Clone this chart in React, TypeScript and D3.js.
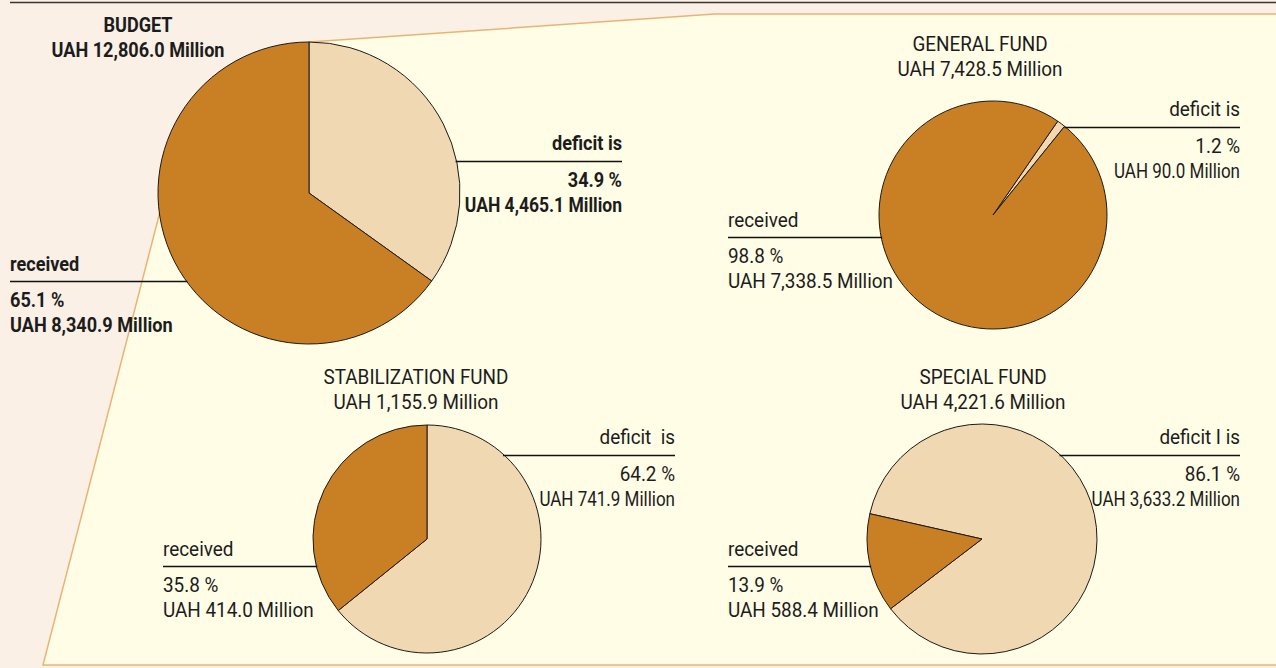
import * as d3 from 'd3';
import { useEffect, useRef } from 'react';

// fund names and totals
const fundNames = ['BUDGET', 'GENERAL FUND', 'STABILIZATION FUND', 'SPECIAL FUND'];
const fundTotals = ['UAH 12,806.0 Million', 'UAH 7,428.5 Million', 'UAH 1,155.9 Million', 'UAH 4,221.6 Million'];

// shares, percent
const deficitPct = [34.9, 1.2, 64.2, 86.1];
const receivedPct = [65.1, 98.8, 35.8, 13.9];

// amounts
const deficitAmt = ['UAH 4,465.1 Million', 'UAH 90.0 Million', 'UAH 741.9 Million', 'UAH 3,633.2 Million'];
const receivedAmt = ['UAH 8,340.9 Million', 'UAH 7,338.5 Million', 'UAH 414.0 Million', 'UAH 588.4 Million'];

const deficitLabels = ['deficit is', 'deficit is', 'deficit  is', 'deficit I is'];
const receivedLabel = 'received';

// layout per pie (not data)
const layout = [
  { cx: 309, cy: 193, r: 151, start: 0, bold: true, titleX: 138, titleY: 32, defY: 161, defX: 622, recY: 281, recX: 10 },
  { cx: 993, cy: 215, r: 114, start: 34.6, bold: false, titleX: 980, titleY: 51, defY: 127, defX: 1240, recY: 237, recX: 728 },
  { cx: 427, cy: 539, r: 114, start: 0, bold: false, titleX: 416, titleY: 384, defY: 455, defX: 675, recY: 566, recX: 163 },
  { cx: 982, cy: 539, r: 115, start: 282.7, bold: false, titleX: 983, titleY: 384, defY: 455, defX: 1240, recY: 566, recX: 728 },
];

const DARK = '#c97f24';
const LIGHT = '#f0d8b2';
const FONT = "Roboto, 'DejaVu Sans Condensed', sans-serif";

export default function App() {
  const svgRef = useRef<SVGSVGElement>(null);

  useEffect(() => {
    drawChart(svgRef.current!);
  }, []);

  return (
    <svg ref={svgRef} width={1276} height={668} style={{ position: 'absolute', left: 0, top: 0 }} />
  );
}

function drawChart(el: SVGSVGElement) {
  const svg = d3.select(el);
  svg.selectAll('*').remove();

  svg.append('rect').attr('width', 1276).attr('height', 668).attr('fill', '#faf0e6');

  // yellow zoom panel behind the fund pies
  const panel: [number, number][] = [[309, 42], [715, 14], [1280, 14], [1280, 665], [43, 665], [163, 200]];
  svg.append('path')
    .attr('d', d3.line()(panel) + 'Z')
    .attr('fill', '#fffde6')
    .attr('stroke', '#e8b474')
    .attr('stroke-width', 1.5);

  svg.append('line')
    .attr('x1', 10).attr('x2', 1276).attr('y1', 2.5).attr('y2', 2.5)
    .attr('stroke', '#3a3530').attr('stroke-width', 1.5);

  layout.forEach((L, i) => {
    const g = svg.append('g');
    const weight = L.bold ? 'bold' : 'normal';
    const sx = L.bold ? 0.905 : 0.945;
    const sxTight = L.bold ? 0.875 : 0.85; // right-hand amounts are set tighter
    const a0 = (L.start * Math.PI) / 180;
    const pie = d3.pie<number>().sort(null).value(d => d)
      .startAngle(a0).endAngle(a0 + 2 * Math.PI);
    const arc = d3.arc<d3.PieArcDatum<number>>().innerRadius(0).outerRadius(L.r);
    const slices = pie([deficitPct[i], receivedPct[i]]);

    g.append('g').attr('transform', `translate(${L.cx},${L.cy})`)
      .selectAll('path')
      .data(slices)
      .join('path')
      .attr('d', arc)
      .attr('fill', (_, j) => (j === 0 ? LIGHT : DARK))
      .attr('stroke', '#1e1a16')
      .attr('stroke-width', 1)
      .attr('stroke-linejoin', 'round');

    // condensed look: squeeze horizontally around the anchor point
    const text = (x: number, y: number, s: string, anchor: string, k = sx) =>
      g.append('text')
        .attr('transform', `translate(${x},${y}) scale(${k},1)`)
        .attr('text-anchor', anchor)
        .attr('font-family', FONT)
        .attr('font-size', 20)
        .attr('font-weight', weight)
        .attr('fill', '#1c1c1c')
        .style('white-space', 'pre')
        .text(s);

    // titles
    text(L.titleX, L.titleY, fundNames[i], 'middle');
    text(L.titleX, L.titleY + 25, fundTotals[i], 'middle');

    // leader lines end on the circle
    const edge = (y: number) => Math.sqrt(Math.max(0, L.r * L.r - (y - L.cy) ** 2));
    g.append('line')
      .attr('x1', L.cx + edge(L.defY) - 1).attr('x2', L.defX)
      .attr('y1', L.defY + 0.5).attr('y2', L.defY + 0.5)
      .attr('stroke', '#111').attr('stroke-width', 1.3);
    g.append('line')
      .attr('x1', L.recX).attr('x2', L.cx - edge(L.recY) + 1)
      .attr('y1', L.recY + 0.5).attr('y2', L.recY + 0.5)
      .attr('stroke', '#111').attr('stroke-width', 1.3);

    text(L.defX, L.defY - 11, deficitLabels[i], 'end');
    text(L.defX, L.defY + 26, `${deficitPct[i].toFixed(1)} %`, 'end');
    text(L.defX, L.defY + 51, deficitAmt[i], 'end', sxTight);

    text(L.recX, L.recY - 10, receivedLabel, 'start');
    text(L.recX, L.recY + 26, `${receivedPct[i].toFixed(1)} %`, 'start');
    text(L.recX, L.recY + 51, receivedAmt[i], 'start');
  });
}
